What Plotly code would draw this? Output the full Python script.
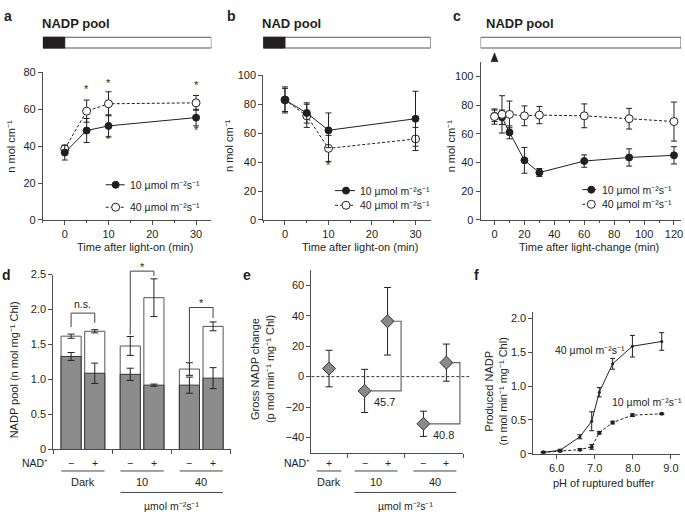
import plotly.graph_objects as go

W, H = 685, 518
FONT = "Liberation Sans, Arial, Helvetica, sans-serif"
INK = "#231f20"
AX = "#4d4d4d"
GRAY = "#8c8c8c"

def X(px):
    return px / W

def Y(py):
    return 1 - py / H

# ---------------- data ----------------
SERIES = ["10 µmol m⁻²s⁻¹", "40 µmol m⁻²s⁻¹"]

T_A = [0, 5, 10, 30]
A_10 = [36.5, 48.5, 51, 55.5]
A_10_ERR = [4, 6.5, 6, 4.5]
A_40 = [38.5, 59, 63, 63.5]
A_40_ERR = [2, 6, 6.5, 4]

T_B = [0, 5, 10, 30]
B_10 = [83, 74, 62, 70]
B_10_ERR = [9, 7, 12, 19]
B_40 = [83, 72, 49.5, 56]
B_40_ERR = [8, 8, 9, 8]

T_C = [0, 5, 10, 20, 30, 60, 90, 120]
C_10 = [72.5, 71.5, 61, 41.5, 33, 41, 43.5, 45]
C_10_ERR = [4, 5, 4.5, 9, 2.8, 4.3, 6, 6]
C_40 = [72, 73.5, 73.5, 72.5, 73, 72.5, 70.5, 68.5]
C_40_ERR = [5.3, 13, 9.3, 6.9, 6, 8.3, 7.2, 13.6]

D_GROUPS = ["Dark", "10", "40"]
D_NAD = ["−", "+"]
D_TOTAL = [1.62, 1.69, 1.48, 2.17, 1.15, 1.76]
D_TOTAL_ERR = [0.03, 0.023, 0.135, 0.27, 0.09, 0.063]
D_GRAY = [1.33, 1.09, 1.075, 0.92, 0.92, 1.02]
D_GRAY_ERR = [0.056, 0.145, 0.087, 0.015, 0.115, 0.15]
D_SIG = ["n.s.", "*", "*"]

E_GROUPS = ["Dark", "10", "40"]
E_NAD = ["+", "−", "+", "−", "+"]
E_VAL = [5.3, -9.4, 36.4, -31, 9.2]
E_ERR = [12, 14.2, 22.2, 8.3, 12.2]
E_DIFF = ["45.7", "40.8"]

F_PH = [5.65, 6.09, 6.61, 6.92, 7.12, 7.47, 7.99, 8.76]
F_40 = [0.02, 0.05, 0.25, 0.48, 0.91, 1.33, 1.59, 1.66]
F_40_ERR = [0.01, 0.015, 0.03, 0.14, 0.07, 0.08, 0.16, 0.13]
F_10 = [0.02, 0.04, 0.06, 0.10, 0.31, 0.46, 0.57, 0.59]
F_10_ERR = [0.005, 0.01, 0.015, 0.035, 0.02, 0.02, 0.02, 0.01]

UNIT = "µmol m⁻²s⁻¹"

# ---------------- figure ----------------
fig = go.Figure()
shapes = []
ann = []

def txt(x, y, t, size=11, xref="paper", yref="paper", xanchor="center",
        yanchor="middle", angle=0, bold=False, color=INK):
    ann.append(dict(x=x, y=y, xref=xref, yref=yref, text=("<b>%s</b>" % t) if bold else t,
                    showarrow=False, xanchor=xanchor, yanchor=yanchor,
                    textangle=angle, font=dict(family=FONT, size=size, color=color)))

def err(arr, w=3):
    return dict(type="data", array=arr, visible=True, color=INK, thickness=1, width=w)

def series(x, y, e, ax, filled, size=7):
    fig.add_trace(go.Scatter(
        x=x, y=y, mode="lines+markers", xaxis="x" + ax, yaxis="y" + ax,
        error_y=err(e),
        line=dict(color=INK, width=1, dash=None if filled else "3px,2px"),
        marker=dict(symbol="circle", size=size if filled else size + 1,
                    color=INK if filled else "white",
                    line=dict(color=INK, width=1)),
        showlegend=False, cliponaxis=False))

# ---- panel a, b, c line charts ----
series(T_A, A_40, A_40_ERR, "", False)
series(T_A, A_10, A_10_ERR, "", True)
series(T_B, B_40, B_40_ERR, "2", False)
series(T_B, B_10, B_10_ERR, "2", True)
series(T_C, C_10, C_10_ERR, "3", True)
series(T_C, C_40, C_40_ERR, "3", False)

# ---- panel d stacked bars ----
D_OFF = 0.2
d_x = [g + s * D_OFF for g in range(len(D_GROUPS)) for s in (-1, 1)]
fig.add_trace(go.Bar(x=d_x, y=D_TOTAL, width=0.34, xaxis="x4", yaxis="y4",
                     marker=dict(color="white", line=dict(color="#555", width=1)),
                     showlegend=False))
fig.add_trace(go.Bar(x=d_x, y=D_GRAY, width=0.34, xaxis="x4", yaxis="y4",
                     marker=dict(color=GRAY, line=dict(color="#333", width=1)),
                     showlegend=False))
for yy, ee in ((D_TOTAL, D_TOTAL_ERR), (D_GRAY, D_GRAY_ERR)):
    fig.add_trace(go.Scatter(x=d_x, y=yy, mode="markers", xaxis="x4", yaxis="y4",
                             marker=dict(size=1, color="rgba(0,0,0,0)"),
                             error_y=err(ee, 3.5), showlegend=False))

# ---- panel e points ----
E_CENTERS = [0.3, 1.1, 2.1]
E_OFF = 0.195
e_x = [E_CENTERS[0]] + [E_CENTERS[g] + s * E_OFF for g in (1, 2) for s in (-1, 1)]
fig.add_trace(go.Scatter(x=e_x, y=E_VAL, mode="markers", xaxis="x5", yaxis="y5",
                         error_y=err(E_ERR, 3.5),
                         marker=dict(symbol="diamond", size=10, color="#8a8a8a",
                                     line=dict(color="#333", width=1)),
                         showlegend=False, cliponaxis=False))

# ---- panel f ----
fig.add_trace(go.Scatter(x=F_PH, y=F_40, mode="lines+markers", xaxis="x6", yaxis="y6",
                         error_y=err(F_40_ERR, 2.5),
                         line=dict(color=INK, width=1),
                         marker=dict(size=3, color=INK), showlegend=False))
fig.add_trace(go.Scatter(x=F_PH, y=F_10, mode="lines+markers", xaxis="x6", yaxis="y6",
                         error_y=err(F_10_ERR, 2.5),
                         line=dict(color=INK, width=1, dash="3px,2px"),
                         marker=dict(size=4, color=INK), showlegend=False))

# ---------------- axes ----------------
def axis(domain, rng, anchor, **kw):
    d = dict(domain=domain, range=rng, anchor=anchor, showline=True, linecolor=AX,
             linewidth=1, ticks="outside", ticklen=4, tickwidth=1, tickcolor=AX,
             showgrid=False, zeroline=False, fixedrange=True, ticklabeloverflow="allow",
             tickfont=dict(family=FONT, size=11, color=INK))
    d.update(kw)
    return d

AR = {"a": [-5, 33.5], "b": [-5, 33.5], "c": [-9.3, 124.7]}
D_XPX, D_YPX, D_XR, D_YR = (53.5, 231.5), (454, 275), (-0.5, 2.5), (0, 2.5)
minor5 = dict(dtick=5, ticklen=2.5, ticks="outside", tickcolor=AX)
layout_axes = dict(
    xaxis=axis([X(43), X(212)], AR["a"], "y", tickvals=[0, 10, 20, 30], minor=minor5),
    yaxis=axis([Y(219), Y(68)], [0, 80], "x", tickvals=[0, 20, 40, 60, 80]),
    xaxis2=axis([X(264), X(432)], AR["b"], "y2", tickvals=[0, 10, 20, 30], minor=minor5),
    yaxis2=axis([Y(219), Y(71)], [0, 100], "x2", tickvals=[0, 20, 40, 60, 80, 100]),
    xaxis3=axis([X(482), X(683)], AR["c"], "y3", tickvals=list(range(0, 121, 20)),
                minor=dict(dtick=10, ticklen=2.5, ticks="outside", tickcolor=AX)),
    yaxis3=axis([Y(219), Y(57.3)], [0, 110], "x3", tickvals=[0, 20, 40, 60, 80, 100]),
    xaxis4=axis([X(D_XPX[0]), X(D_XPX[1])], list(D_XR), "y4",
                tickvals=[-0.5, 0.5, 1.5, 2.5], ticktext=["", "", "", ""]),
    yaxis4=axis([Y(D_YPX[0]), Y(D_YPX[1])], list(D_YR), "x4",
                tickvals=[0, 0.5, 1, 1.5, 2, 2.5],
                ticktext=["0", "0.5", "1.0", "1.5", "2.0", "2.5"]),
    xaxis5=axis([X(312.3), X(464.5)], [0, 2.58], "y5", tickvals=[0.62, 1.58, 2.58],
                ticktext=["", "", ""]),
    yaxis5=axis([Y(457.3), Y(270.4)], [-50, 70], "x5", tickvals=[-40, -20, 0, 20, 40, 60]),
    xaxis6=axis([X(535), X(682)], [5.39, 9.24], "y6", tickvals=[6, 7, 8, 9],
                ticktext=["6.0", "7.0", "8.0", "9.0"]),
    yaxis6=axis([Y(458.3), Y(313)], [0, 2.1], "x6", tickvals=[0, 0.5, 1, 1.5, 2],
                ticktext=["0", "0.5", "1.0", "1.5", "2.0"]),
)

def d_paper(x, y):
    """map panel-d data coordinates to paper coordinates (brackets may exceed the axis)"""
    px = D_XPX[0] + (x - D_XR[0]) / (D_XR[1] - D_XR[0]) * (D_XPX[1] - D_XPX[0])
    py = D_YPX[0] + (y - D_YR[0]) / (D_YR[1] - D_YR[0]) * (D_YPX[1] - D_YPX[0])
    return X(px), Y(py)

# ---------------- decorations ----------------
# light bars on top of a, b, c
for ax, dark in (("x", True), ("x2", True), ("x3", False)):
    r = AR[{"x": "a", "x2": "b", "x3": "c"}[ax]]
    shapes.append(dict(type="rect", xref=ax, yref="paper", x0=r[0], x1=r[1],
                       y0=Y(43), y1=Y(32), fillcolor="white",
                       line=dict(color="#555", width=1)))
    if dark:
        shapes.append(dict(type="rect", xref=ax, yref="paper", x0=r[0], x1=0,
                           y0=Y(43), y1=Y(32), fillcolor="#231f20",
                           line=dict(color="#231f20", width=1)))
# arrow on c
shapes.append(dict(type="path", xref="x3", yref="paper", xsizemode="pixel",
                   ysizemode="pixel", xanchor=0, yanchor=Y(57),
                   path="M -3.5,0 L 3.5,0 L 0,9 Z", fillcolor=INK,
                   line=dict(color=INK, width=0.5)))

# panel titles and letters
for letter, lx, ly in (("a", 8, 10), ("b", 232, 10), ("c", 458, 10),
                       ("d", 7, 275), ("e", 248, 275), ("f", 478, 275)):
    txt(X(lx), Y(ly), letter, size=14, bold=True)
for t, lx in (("NADP pool", 40), ("NAD pool", 261), ("NADP pool", 485)):
    txt(X(lx), Y(18), t, size=13, bold=True, xanchor="left")

# axis titles
for cx in (11, 229, 452):
    txt(X(cx), Y(143), "n mol cm⁻¹", angle=-90)
txt(X(135), Y(247), "Time after light-on (min)")
txt(X(361), Y(247), "Time after light-on (min)")
txt(X(591), Y(247), "Time after light-change (min)")
txt(X(14), Y(372), "NADP pool (n mol mg⁻¹ Chl)", angle=-90)
txt(X(263.5), Y(372), "Gross NADP change<br>(p mol min⁻¹ mg⁻¹ Chl)", angle=-90)
txt(X(497), Y(395), "Produced NADP<br>(n mol min⁻¹ mg⁻¹ Chl)", angle=-90)
txt(X(606), Y(488), "pH of ruptured buffer")

# legends for a, b, c (drawn manually)
def legend(x0, x1, xm, ys, tx):
    for i, y in enumerate(ys):
        filled = i == 0
        shapes.append(dict(type="line", xref="paper", yref="paper", x0=X(x0), x1=X(x1),
                           y0=Y(y), y1=Y(y),
                           line=dict(color=INK, width=1, dash=None if filled else "3px,2px")))
        r = 3.5 if filled else 4
        shapes.append(dict(type="circle", xref="paper", yref="paper", xsizemode="pixel",
                           ysizemode="pixel", xanchor=X(xm), yanchor=Y(y),
                           x0=-r, x1=r, y0=-r, y1=r,
                           fillcolor=INK if filled else "white",
                           line=dict(color=INK, width=1)))
        txt(X(tx), Y(y), SERIES[i], size=10.5, xanchor="left")

legend(106, 125, 116, (183, 206), 128)
legend(336, 356, 347, (189, 204), 359)
legend(584, 598, 593, (188, 203), 602)

# asterisks a, b
for x, y in ((5, 71), (10, 74), (30, 73.4)):
    txt(x, y, "*", xref="x", yref="y", size=11)
for x, y in ((10, 43.7), (30, 48.8)):
    txt(x, y, "*", xref="x", yref="y", size=11)
txt(10, 38.3, "*", xref="x2", yref="y2", size=11)

# panel d brackets (in paper coordinates so they may rise above the axis top)
D_BRACKET = [(1.75, 1.95, 1.81), (1.64, 2.55, 2.48), (1.25, 2.03, 1.88)]
for g, (yl, yt, yr) in enumerate(D_BRACKET):
    xl, xr = g - D_OFF, g + D_OFF
    pts = [d_paper(xl, yl), d_paper(xl, yt), d_paper(xr, yt), d_paper(xr, yr)]
    shapes.append(dict(type="path", xref="paper", yref="paper",
                       path="M " + " L ".join("%f,%f" % p for p in pts),
                       line=dict(color="#444", width=1)))
    if D_SIG[g] == "n.s.":
        sx, sy = d_paper(g, yt + 0.02)
        txt(sx, sy, D_SIG[g], size=10.5, yanchor="bottom")
    else:
        sx, sy = d_paper(g, yt + 0.06)
        txt(sx, sy, D_SIG[g], size=11)

# category labels under d and e
def categories(xr, centers, nad_x, nad, half, nadx_px):
    txt(X(nadx_px), Y(468), "NAD⁺", size=10.5)
    for x, s in zip(nad_x, nad):
        txt(x, Y(468), s, xref=xr, size=10.5)
    for i, (c, h) in enumerate(zip(centers, half)):
        shapes.append(dict(type="line", xref=xr, yref="paper", x0=c - h, x1=c + h,
                           y0=Y(476), y1=Y(476), line=dict(color="#444", width=1)))
        txt(c, Y(487.5), D_GROUPS[i], xref=xr, size=11)
    shapes.append(dict(type="line", xref=xr, yref="paper", x0=centers[1] - half[1],
                       x1=centers[2] + half[2], y0=Y(498), y1=Y(498),
                       line=dict(color="#444", width=1)))
    txt((centers[1] + centers[2]) / 2, Y(511.5), UNIT, xref=xr, size=10.5)

categories("x4", [0, 1, 2], d_x, D_NAD * 3, [0.365] * 3, 35)
categories("x5", E_CENTERS, e_x, E_NAD, [0.21, 0.365, 0.365], 298)

# panel e zero line and brackets
shapes.append(dict(type="line", xref="x5 domain", yref="y5", x0=0, x1=1.04, y0=0, y1=0,
                   line=dict(color="#333", width=1, dash="3px,2px")))
for k, (im, ip) in enumerate(((1, 2), (3, 4))):
    xr = e_x[ip] + 0.23
    shapes.append(dict(type="path", xref="x5", yref="y5",
                       path="M %f,%f L %f,%f L %f,%f L %f,%f" % (
                           e_x[ip] + 0.07, E_VAL[ip], xr, E_VAL[ip], xr, E_VAL[im],
                           e_x[im] + 0.09, E_VAL[im]),
                       line=dict(color="#666", width=1.2)))
    txt(e_x[im] + 0.34, E_VAL[im] - 7.5, E_DIFF[k], xref="x5", yref="y5", size=11)

# panel f labels
txt(6.88, 1.54, SERIES[1], xref="x6", yref="y6", size=10.5)
txt(8.36, 0.77, SERIES[0], xref="x6", yref="y6", size=10.5)

fig.update_layout(
    width=W, height=H, margin=dict(l=0, r=0, t=0, b=0),
    paper_bgcolor="white", plot_bgcolor="white", showlegend=False,
    barmode="overlay", font=dict(family=FONT, size=11, color=INK),
    shapes=shapes, annotations=ann, **layout_axes)

fig.write_html("out.html", config={"displayModeBar": False},
               post_script="document.body.style.margin='0';document.body.style.overflow='hidden';")
